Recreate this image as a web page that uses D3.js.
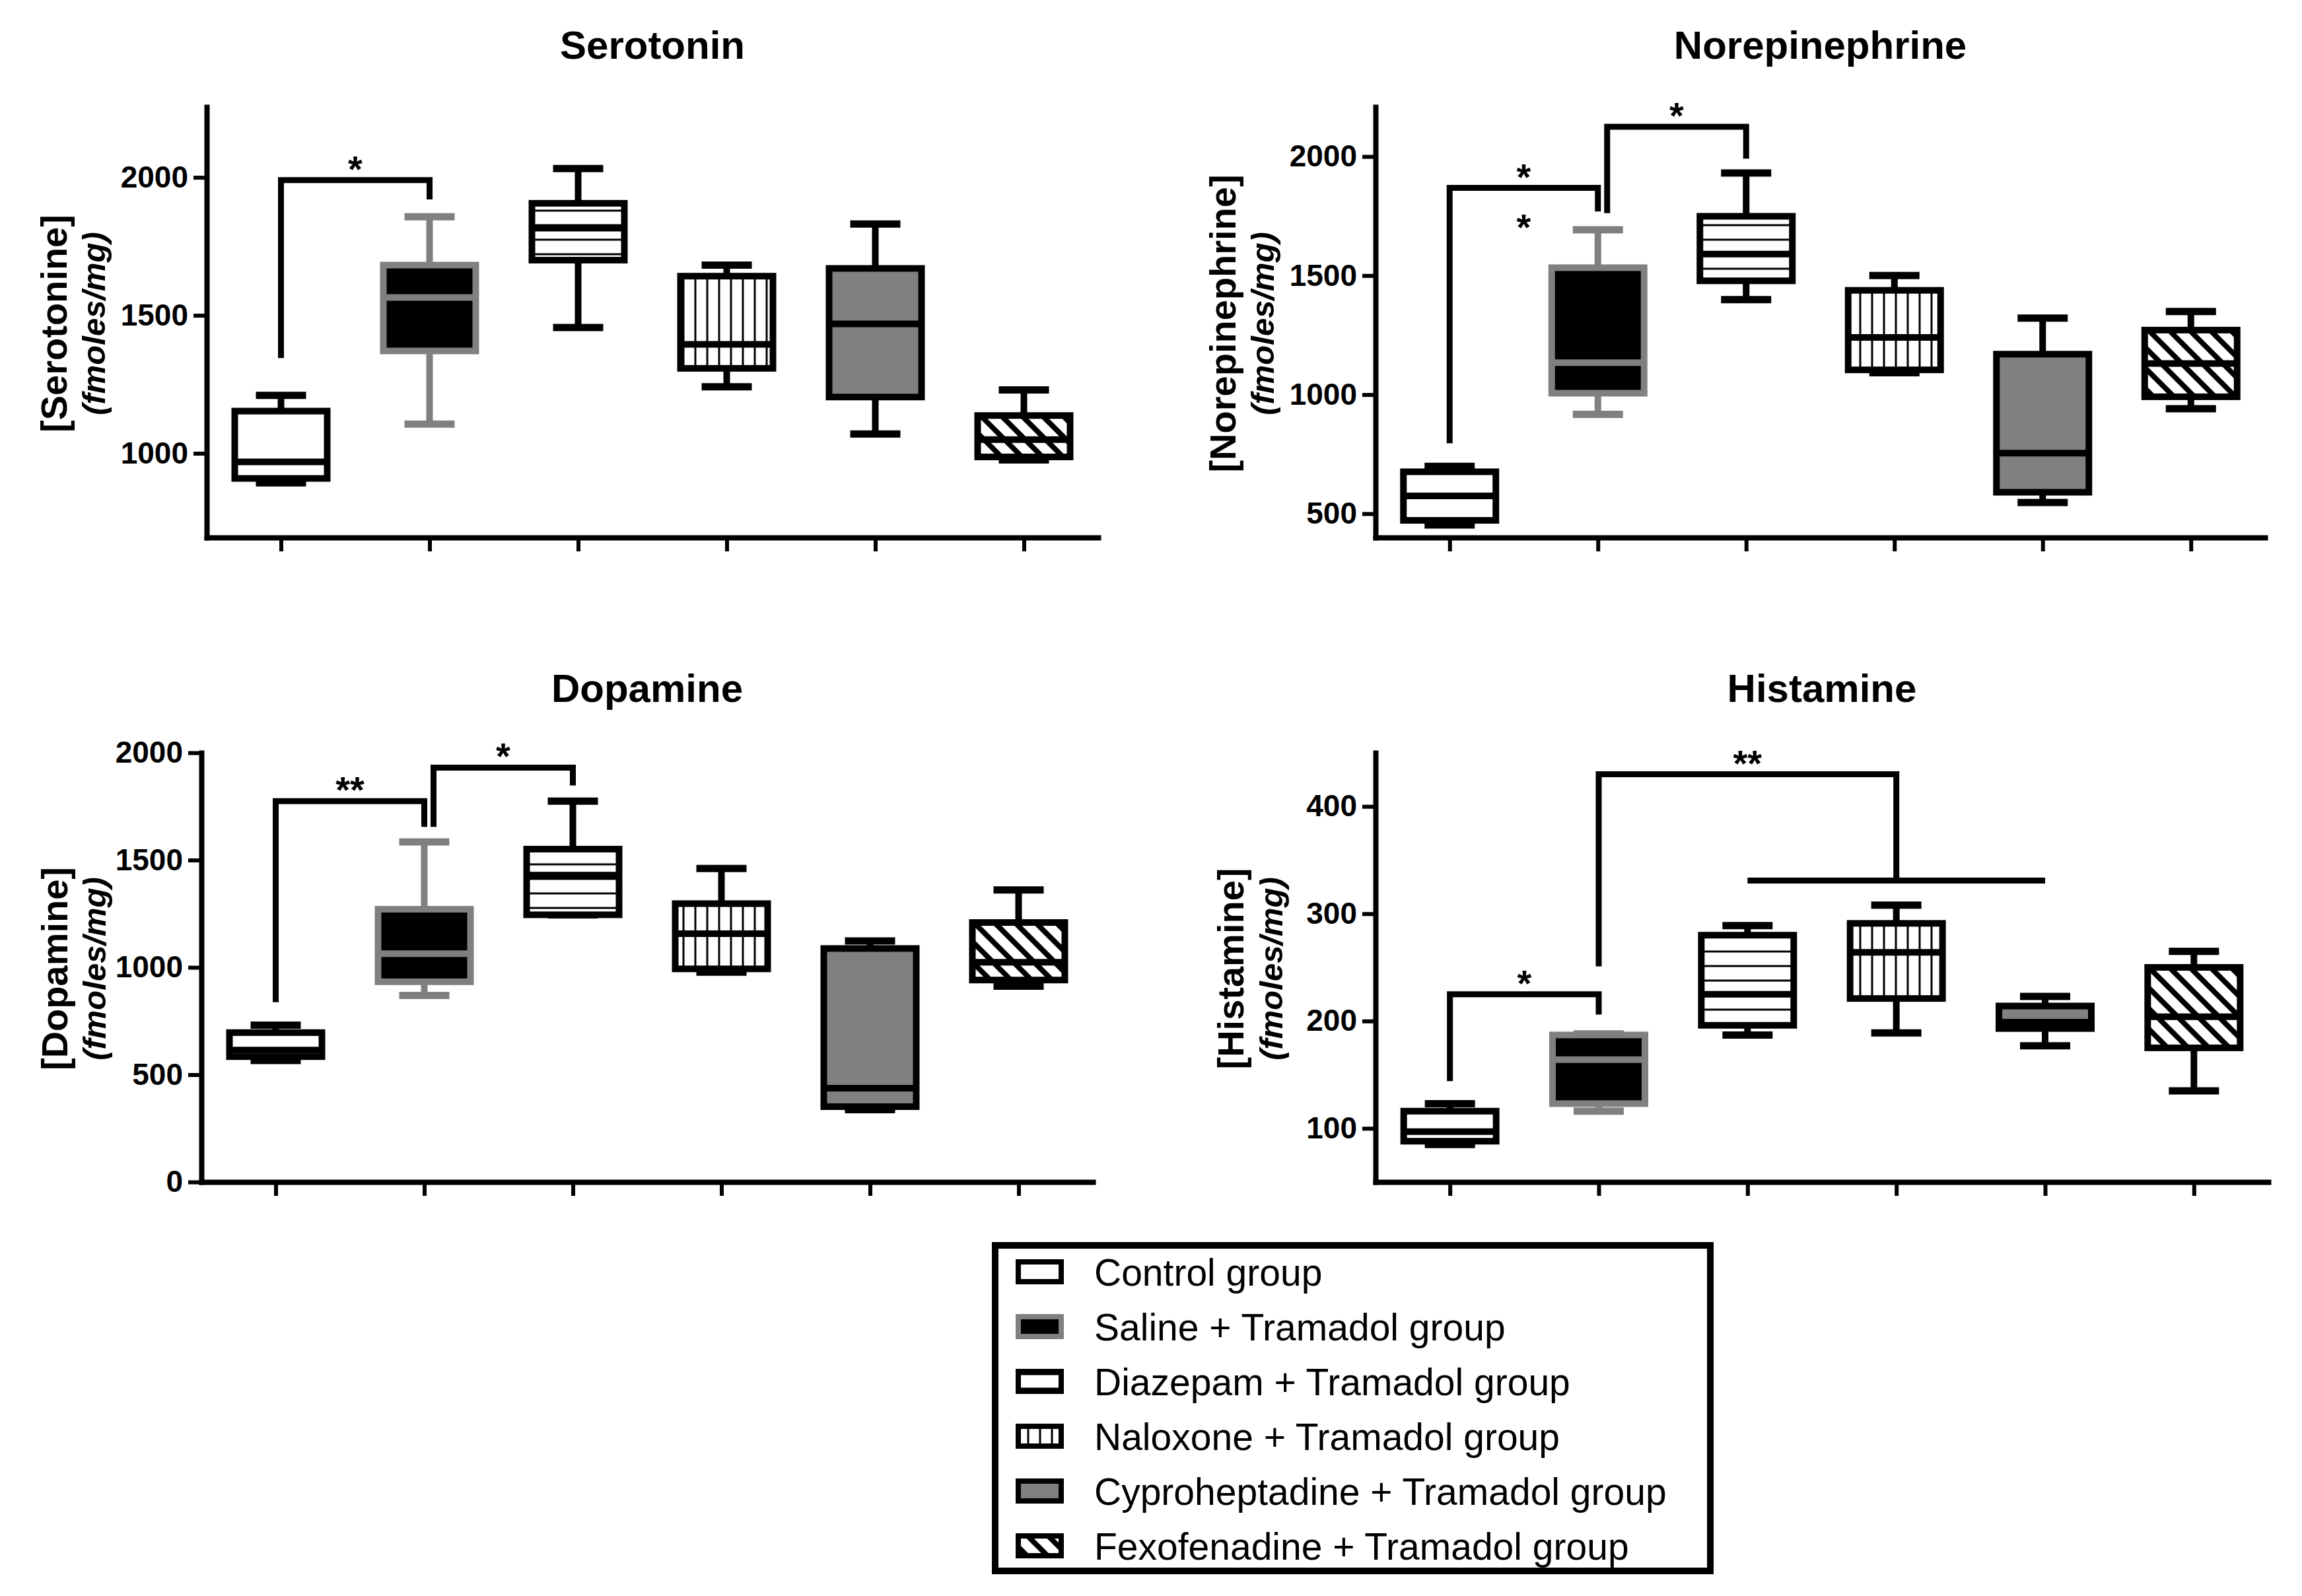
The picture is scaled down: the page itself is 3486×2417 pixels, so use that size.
<!DOCTYPE html>
<html>
<head>
<meta charset="utf-8">
<script src="https://cdn.jsdelivr.net/npm/d3@7/dist/d3.min.js"></script>
<style>
  body { margin: 0; background: #fff; }
  svg text { font-family: "Liberation Sans", Arial, sans-serif; fill: #000; }
</style>
</head>
<body>
<svg id="chart" width="3486" height="2417"></svg>
<script>
// Groups (legend order = box order)
var groups = ["Control group", "Saline + Tramadol group", "Diazepam + Tramadol group",
              "Naloxone + Tramadol group", "Cyproheptadine + Tramadol group", "Fexofenadine + Tramadol group"];

var analytes = ["Serotonin", "Norepinephrine", "Dopamine", "Histamine"];
var yLabels = ["[Serotonine]", "[Norepinephrine]", "[Dopamine]", "[Histamine]"];
var yUnit = "(fmoles/mg)";

// box stats per group: [min, q1, median, q3, max]
var serotonin = [
  [893, 909, 969, 1153, 1210],
  [1106, 1371, 1565, 1682, 1857],
  [1456, 1700, 1816, 1906, 2032],
  [1241, 1308, 1395, 1642, 1682],
  [1070, 1204, 1469, 1670, 1831],
  [976, 987, 1050, 1137, 1230]
];
var norepinephrine = [
  [453, 472, 575, 676, 699],
  [917, 1006, 1134, 1533, 1692],
  [1399, 1478, 1590, 1749, 1931],
  [1092, 1104, 1240, 1438, 1500],
  [547, 590, 754, 1170, 1321],
  [941, 991, 1131, 1271, 1349]
];
var dopamine = [
  [566, 584, 615, 696, 731],
  [869, 933, 1064, 1271, 1585],
  [1245, 1245, 1430, 1551, 1775],
  [978, 993, 1157, 1297, 1461],
  [337, 351, 437, 1088, 1123],
  [912, 941, 1024, 1209, 1361]
];
var histamine = [
  [85, 88, 97, 116, 123],
  [116, 123, 164, 187, 188],
  [187, 196, 225, 280, 289],
  [189, 221, 264, 291, 308],
  [177, 193, 199, 214, 223],
  [135, 175, 204, 250, 265]
];

var yTicks = [[1000, 1500, 2000], [500, 1000, 1500, 2000], [0, 500, 1000, 1500, 2000], [100, 200, 300, 400]];
var yDomains = [[695, 2255], [400, 2208], [0, 2000], [50, 450]];

// significance brackets: a/b = groups, y = bar level, ya/yb = leg ends, span = extra bar across groups
var serotoninSig = [{a: 0, b: 1, y: 1990, ya: 1345, yb: 1920, text: "*"}];
var norepinephrineSig = [
  {a: 0, b: 1, y: 1868, ya: 796, yb: 1769, text: "*", below: "*"},
  {a: 1, b: 2, y: 2125, ya: 1762, yb: 1991, text: "*"}
];
var dopamineSig = [
  {a: 0, b: 1, y: 1775, ya: 838, yb: 1655, text: "**"},
  {a: 1, b: 2, y: 1931, ya: 1655, yb: 1848, text: "*"}
];
var histamineSig = [
  {a: 0, b: 1, y: 225, ya: 144, yb: 206, text: "*"},
  {a: 1, b: 3, y: 430, ya: 251, yb: 331, text: "**", span: [2, 4]}
];

var svg = d3.select("#chart");
var grey = "#808080";

// fill patterns
var defs = svg.append("defs");
var ph = defs.append("pattern").attr("id", "hlines").attr("patternUnits", "userSpaceOnUse")
    .attr("width", 10).attr("height", 22);
ph.append("rect").attr("width", 10).attr("height", 22).attr("fill", "#fff");
ph.append("line").attr("x1", 0).attr("x2", 10).attr("y1", 11).attr("y2", 11)
    .attr("stroke", "#000").attr("stroke-width", 3);
var pv = defs.append("pattern").attr("id", "vlines").attr("patternUnits", "userSpaceOnUse")
    .attr("width", 18).attr("height", 10);
pv.append("rect").attr("width", 18).attr("height", 10).attr("fill", "#fff");
pv.append("line").attr("x1", 9).attr("x2", 9).attr("y1", 0).attr("y2", 10)
    .attr("stroke", "#000").attr("stroke-width", 3);
var pd = defs.append("pattern").attr("id", "diag").attr("patternUnits", "userSpaceOnUse")
    .attr("width", 22).attr("height", 22).attr("patternTransform", "rotate(-45)");
pd.append("rect").attr("width", 22).attr("height", 22).attr("fill", "#fff");
pd.append("line").attr("x1", 11).attr("x2", 11).attr("y1", 0).attr("y2", 22)
    .attr("stroke", "#000").attr("stroke-width", 8);

var styles = [
  {fill: "#fff", stroke: "#000"},
  {fill: "#000", stroke: grey},
  {fill: "url(#hlines)", stroke: "#000"},
  {fill: "url(#vlines)", stroke: "#000"},
  {fill: grey, stroke: "#000"},
  {fill: "url(#diag)", stroke: "#000"}
];

var panels = [
  {data: serotonin, sig: serotoninSig, x0: 313, x1: 1663, y0: 162, y1: 814, titleY: 89, lab: [212, 154]},
  {data: norepinephrine, sig: norepinephrineSig, x0: 2083, x1: 3430, y0: 162, y1: 814, titleY: 89, lab: [212, 154]},
  {data: dopamine, sig: dopamineSig, x0: 305, x1: 1655, y0: 1140, y1: 1790, titleY: 1063, lab: [203, 145]},
  {data: histamine, sig: histamineSig, x0: 2083, x1: 3435, y0: 1140, y1: 1790, titleY: 1063, lab: [200, 141]}
];

var boxW = 140, capW = 76, sw = 10;

panels.forEach(function (p, pi) {
  var g = svg.append("g");
  var x = d3.scalePoint().domain(d3.range(groups.length)).range([p.x0, p.x1]).padding(0.5);
  var y = d3.scaleLinear().domain(yDomains[pi]).range([p.y1, p.y0]);

  // title
  g.append("text")
    .attr("x", (p.x0 + p.x1) / 2).attr("y", p.titleY)
    .attr("text-anchor", "middle")
    .style("font-size", "60px").style("font-weight", "bold")
    .text(analytes[pi]);

  // y axis label (two lines)
  var yc = (p.y0 + p.y1) / 2 + 2;
  g.append("text")
    .attr("transform", "translate(" + (p.x0 - p.lab[0]) + "," + yc + ") rotate(-90)")
    .attr("text-anchor", "middle")
    .style("font-size", "56px").style("font-weight", "bold")
    .text(yLabels[pi]);
  g.append("text")
    .attr("transform", "translate(" + (p.x0 - p.lab[1]) + "," + yc + ") rotate(-90)")
    .attr("text-anchor", "middle")
    .style("font-size", "49px").style("font-weight", "bold").style("font-style", "italic")
    .text(yUnit);

  // axes
  var ya = g.append("g").attr("transform", "translate(" + p.x0 + ",0)")
    .call(d3.axisLeft(y).tickValues(yTicks[pi]).tickSize(20).tickPadding(8).tickSizeOuter(0).tickFormat(d3.format("d")));
  var xa = g.append("g").attr("transform", "translate(0," + p.y1 + ")")
    .call(d3.axisBottom(x).tickSize(21).tickSizeOuter(0).tickFormat(""));
  [ya, xa].forEach(function (a) {
    a.select(".domain").attr("stroke", "#000").attr("stroke-width", 8).attr("stroke-linecap", "square");
    a.selectAll(".tick line").attr("stroke", "#000").attr("stroke-width", 6);
  });
  ya.selectAll(".tick text")
    .style("font-size", "46px").style("font-weight", "bold")
    .style("font-family", "'Liberation Sans', Arial, sans-serif");

  // boxes
  var box = g.selectAll(".box").data(p.data).enter().append("g").attr("class", "box");
  box.append("line")
    .attr("x1", function (d, i) { return x(i); }).attr("x2", function (d, i) { return x(i); })
    .attr("y1", function (d) { return y(d[0]); }).attr("y2", function (d) { return y(d[4]); })
    .attr("stroke", function (d, i) { return styles[i].stroke; })
    .attr("stroke-width", sw);
  [0, 4].forEach(function (k) {
    box.append("line")
      .attr("x1", function (d, i) { return x(i) - capW / 2; })
      .attr("x2", function (d, i) { return x(i) + capW / 2; })
      .attr("y1", function (d) { return y(d[k]); }).attr("y2", function (d) { return y(d[k]); })
      .attr("stroke", function (d, i) { return styles[i].stroke; })
      .attr("stroke-width", 11);
  });
  box.append("rect")
    .attr("x", function (d, i) { return x(i) - boxW / 2; })
    .attr("width", boxW)
    .attr("y", function (d) { return y(d[3]); })
    .attr("height", function (d) { return Math.max(1, y(d[1]) - y(d[3])); })
    .attr("fill", function (d, i) { return styles[i].fill; })
    .attr("stroke", function (d, i) { return styles[i].stroke; })
    .attr("stroke-width", sw);
  box.append("line")
    .attr("x1", function (d, i) { return x(i) - boxW / 2; })
    .attr("x2", function (d, i) { return x(i) + boxW / 2; })
    .attr("y1", function (d) { return y(d[2]); }).attr("y2", function (d) { return y(d[2]); })
    .attr("stroke", function (d, i) { return styles[i].stroke; })
    .attr("stroke-width", sw);

  // significance brackets
  p.sig.forEach(function (s) {
    // shift the left leg when it would run alongside another bracket's right leg
    var shared = p.sig.some(function (o) { return o !== s && o.b === s.a && o.a !== s.a && s.ya < o.y; });
    var xA = x(s.a) + (shared ? 14 : 0), xB = x(s.b);
    g.append("path")
      .attr("d", "M" + xA + "," + y(s.ya) + "V" + y(s.y) + "H" + xB + "V" + y(s.yb))
      .attr("fill", "none").attr("stroke", "#000").attr("stroke-width", 9)
      .attr("stroke-linejoin", "miter");
    if (s.span) {
      g.append("line")
        .attr("x1", x(s.span[0])).attr("x2", x(s.span[1]))
        .attr("y1", y(s.yb)).attr("y2", y(s.yb))
        .attr("stroke", "#000").attr("stroke-width", 9);
    }
    g.append("text")
      .attr("x", (xA + xB) / 2).attr("y", y(s.y) + 2)
      .attr("text-anchor", "middle")
      .style("font-size", "56px").style("font-weight", "bold")
      .text(s.text);
    if (s.below) {
      g.append("text")
        .attr("x", (xA + xB) / 2).attr("y", y(s.y) + 78)
        .attr("text-anchor", "middle")
        .style("font-size", "56px").style("font-weight", "bold")
        .text(s.below);
    }
  });
});

// legend
var lg = svg.append("g");
lg.append("rect").attr("x", 1507).attr("y", 1886).attr("width", 1083).attr("height", 493)
  .attr("fill", "#fff").attr("stroke", "#000").attr("stroke-width", 10);
var item = lg.selectAll(".item").data(groups).enter().append("g")
  .attr("transform", function (d, i) { return "translate(0," + (1926 + i * 83) + ")"; });
item.append("rect")
  .attr("x", 1542).attr("y", -15).attr("width", 65).attr("height", 30)
  .attr("fill", function (d, i) { return styles[i].fill; })
  .attr("stroke", function (d, i) { return styles[i].stroke; })
  .attr("stroke-width", 8);
item.append("text")
  .attr("x", 1657).attr("y", 21)
  .style("font-size", "57px")
  .text(function (d) { return d; });
</script>
</body>
</html>
